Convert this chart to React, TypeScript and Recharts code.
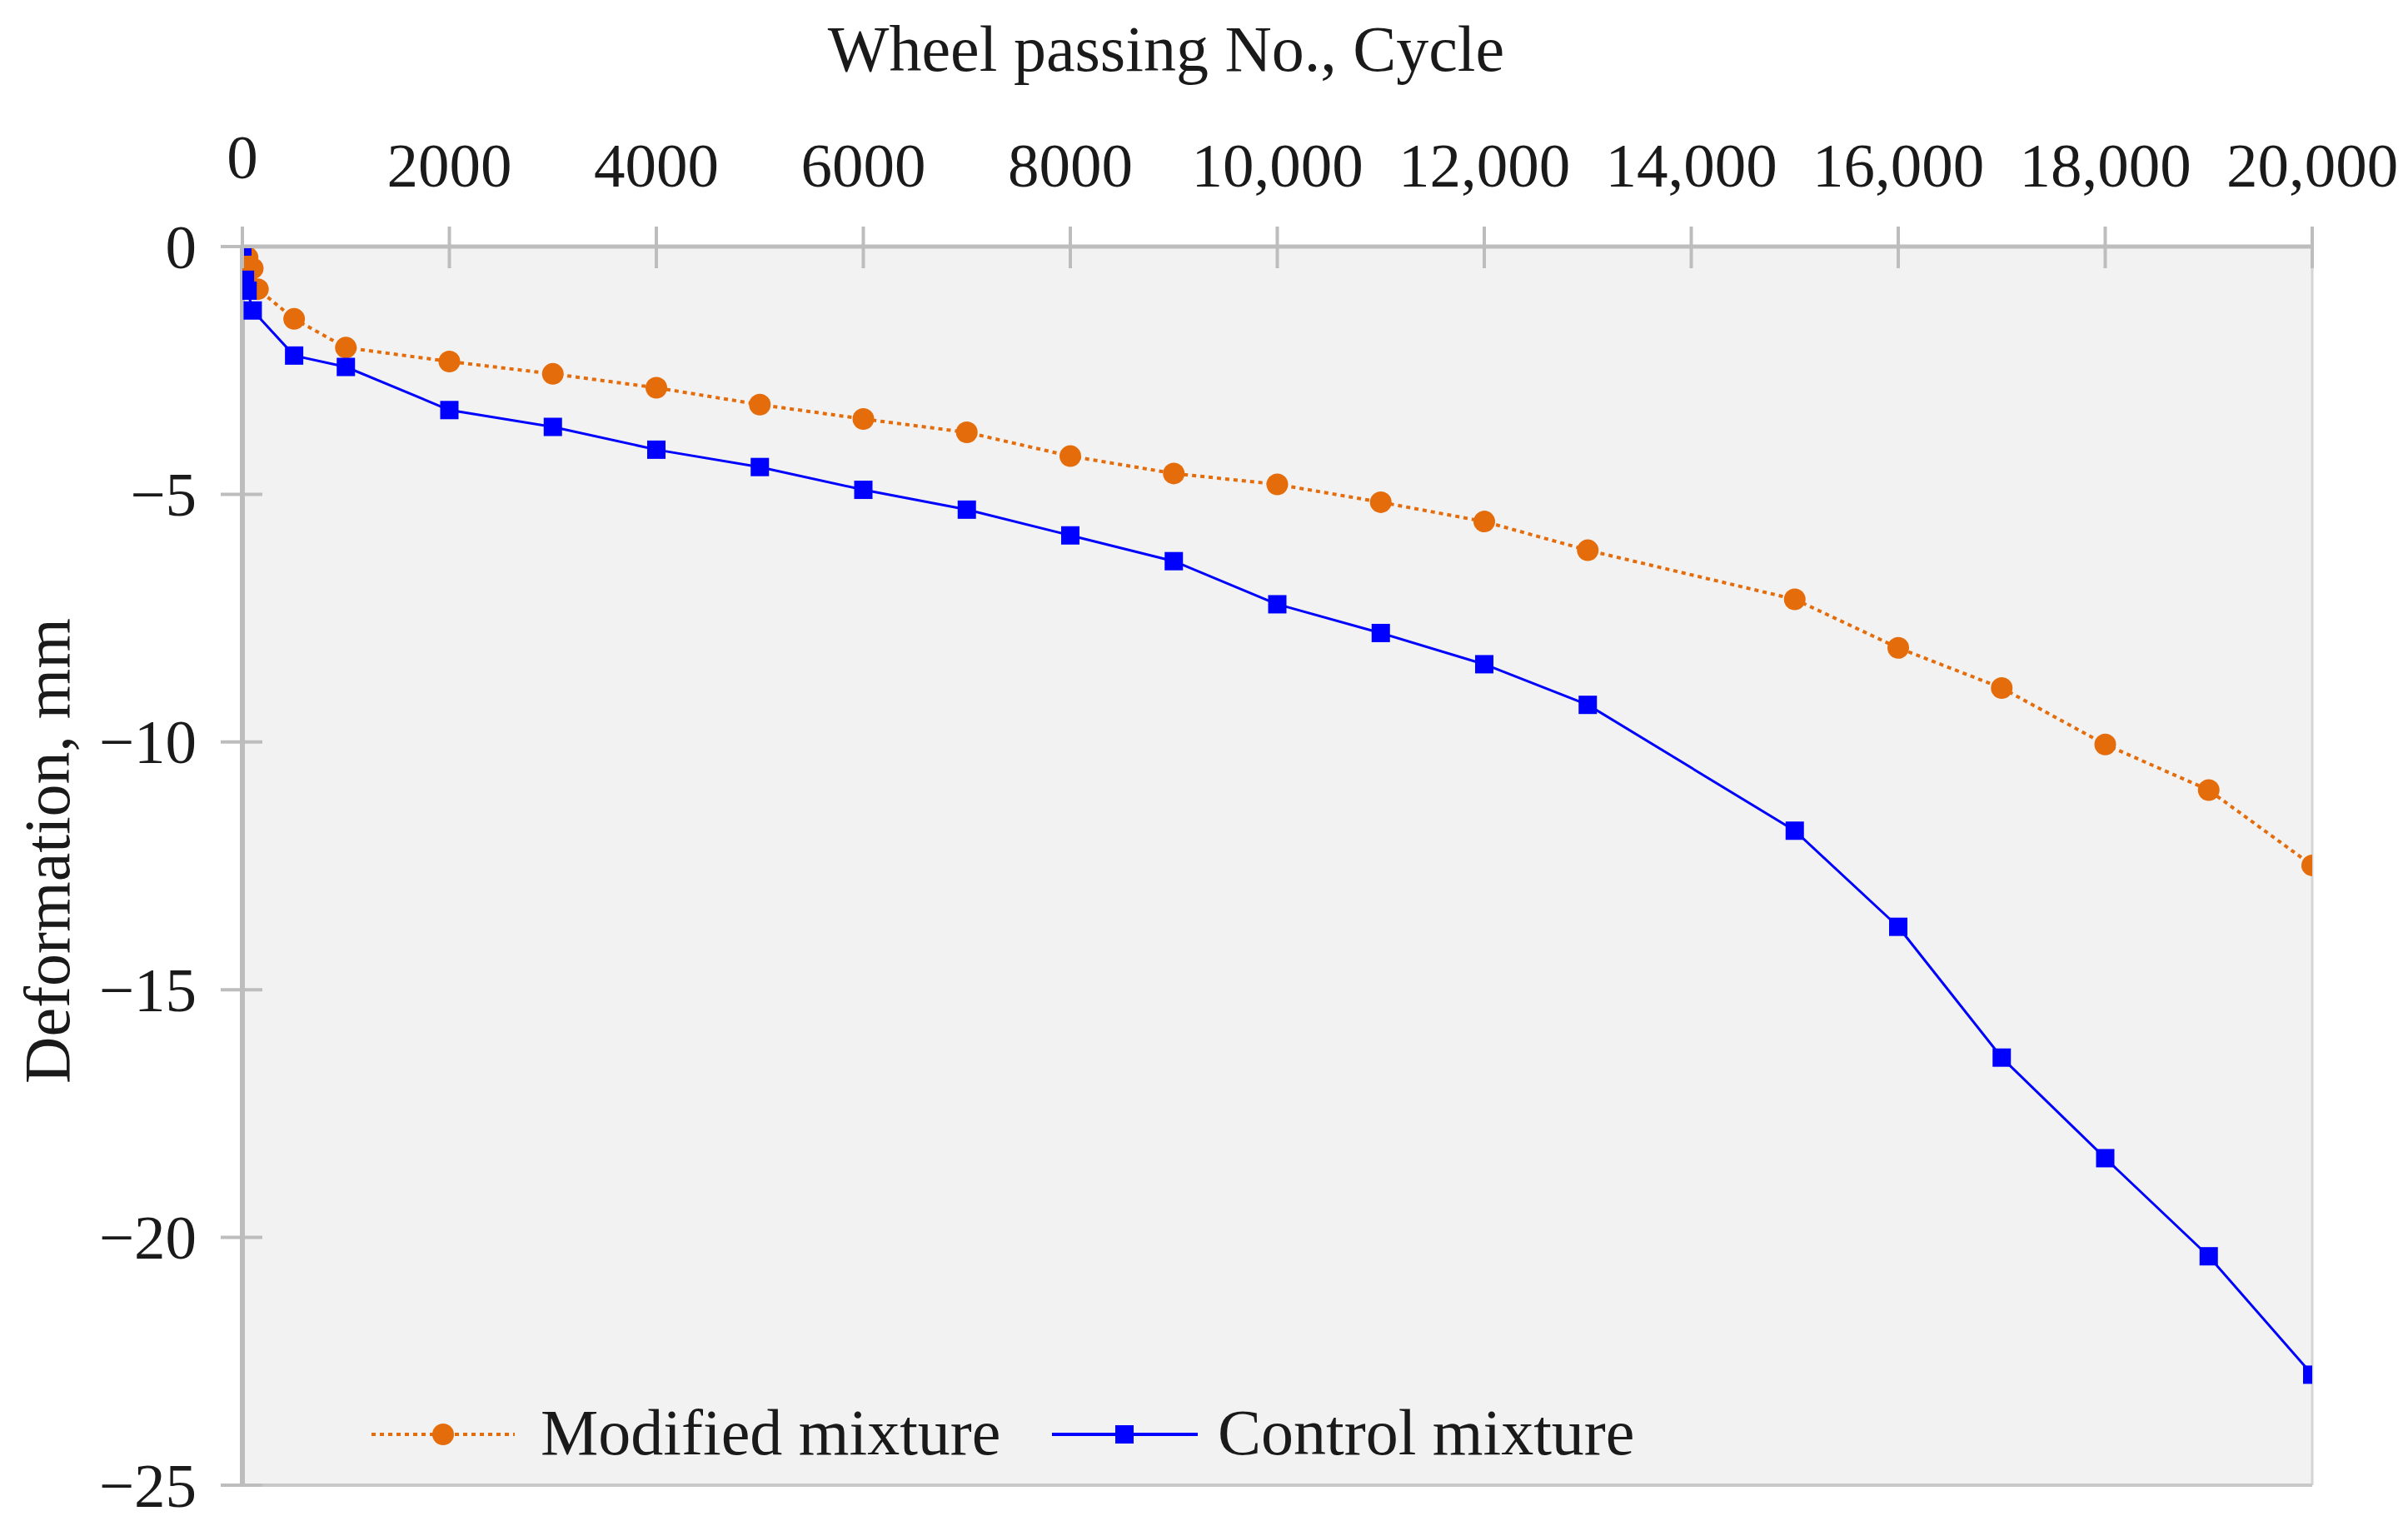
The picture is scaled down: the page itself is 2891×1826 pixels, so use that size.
import React from "react";
import {
  LineChart,
  Line,
  XAxis,
  YAxis,
  CartesianGrid,
  ReferenceLine,
  Legend,
} from "recharts";

// ---- data ----
const modifiedCycles = [0, 50, 100, 150, 500, 1000, 2000, 3000, 4000, 5000, 6000, 7000, 8000, 9000, 10000, 11000, 12000, 13000, 15000, 16000, 17000, 18000, 19000, 20000];
const modifiedDeformation = [0, -0.22, -0.44, -0.86, -1.46, -2.04, -2.32, -2.57, -2.85, -3.19, -3.48, -3.75, -4.23, -4.58, -4.8, -5.16, -5.55, -6.13, -7.12, -8.1, -8.91, -10.05, -10.97, -12.49];

const controlCycles = [0, 25, 50, 100, 500, 1000, 2000, 3000, 4000, 5000, 6000, 7000, 8000, 9000, 10000, 11000, 12000, 13000, 15000, 16000, 17000, 18000, 19000, 20000];
const controlDeformation = [0, -0.67, -0.89, -1.29, -2.2, -2.43, -3.3, -3.64, -4.1, -4.45, -4.91, -5.31, -5.83, -6.35, -7.22, -7.8, -8.43, -9.25, -11.79, -13.73, -16.37, -18.4, -20.38, -22.77];

const xTicks = [0, 2000, 4000, 6000, 8000, 10000, 12000, 14000, 16000, 18000, 20000];
const yTicks = [0, -5, -10, -15, -20, -25];

const seriesNames = ["Modified mixture", "Control mixture"];
const xTitle = "Wheel passing No., Cycle";
const yTitle = "Deformation, mm";

const modifiedData = modifiedCycles.map((x, i) => ({ x, y: modifiedDeformation[i] }));
const controlData = controlCycles.map((x, i) => ({ x, y: controlDeformation[i] }));

// ---- styles ----
const FONT = "'Liberation Serif', 'Times New Roman', serif";
const TEXT = "#1a1a1a";
const AXIS = "#bdbdbd";
const ORANGE = "#E46C0A";
const BLUE = "#0000FF";

const fmtX = (v: number) => (v >= 10000 ? v.toLocaleString("en-US") : String(v));
const fmtY = (v: number) => (v < 0 ? "\u2212" + Math.abs(v) : String(v));

const XTick = (props: any) => {
  const { x, y, payload } = props;
  const v = payload.value as number;
  return (
    <g>
      <line x1={x} x2={x} y1={y - 24} y2={y + 26} stroke={AXIS} strokeWidth={4} />
      <text
        x={x}
        y={v === 0 ? y - 82 : y - 72}
        textAnchor="middle"
        fontFamily={FONT}
        fontSize={75}
        fill={TEXT}
      >
        {fmtX(v)}
      </text>
    </g>
  );
};

const YTick = (props: any) => {
  const { x, y, payload } = props;
  const v = payload.value as number;
  return (
    <g>
      <line x1={x - 26} x2={x + 24} y1={y} y2={y} stroke={AXIS} strokeWidth={4} />
      <text
        x={x - 55}
        y={y}
        dy="0.34em"
        textAnchor="end"
        fontFamily={FONT}
        fontSize={75}
        fill={TEXT}
      >
        {fmtY(v)}
      </text>
    </g>
  );
};

const CircleDot = (props: any) => {
  const { cx, cy, index } = props;
  if (cx == null || cy == null) return <g key={index} />;
  return <circle key={index} cx={cx} cy={cy} r={13} fill={ORANGE} stroke="none" />;
};

const SquareDot = (props: any) => {
  const { cx, cy, index } = props;
  if (cx == null || cy == null) return <g key={index} />;
  return <rect key={index} x={cx - 11} y={cy - 11} width={22} height={22} fill={BLUE} stroke="none" />;
};

const LegendContent = () => (
  <svg width={1650} height={120} style={{ display: "block", overflow: "visible" }}>
    <line x1={6} x2={178} y1={60} y2={60} stroke={ORANGE} strokeWidth={4} strokeDasharray="5 5" />
    <circle cx={92} cy={60} r={13} fill={ORANGE} />
    <text x={209} y={84} fontFamily={FONT} fontSize={78} fill={TEXT}>
      {seriesNames[0]}
    </text>
    <line x1={823} x2={998} y1={60} y2={60} stroke={BLUE} strokeWidth={4} />
    <rect x={899} y={49} width={22} height={22} fill={BLUE} />
    <text x={1022} y={84} fontFamily={FONT} fontSize={78} fill={TEXT}>
      {seriesNames[1]}
    </text>
  </svg>
);

const XTitle = (props: any) => {
  const vb = props.viewBox || {};
  return (
    <text
      x={1400}
      y={(vb.y ?? 0) + 85}
      textAnchor="middle"
      fontFamily={FONT}
      fontSize={78}
      fill={TEXT}
    >
      {xTitle}
    </text>
  );
};

const YTitle = (props: any) => {
  const vb = props.viewBox || {};
  const cx = (vb.x ?? 0) + 56;
  const cy = (vb.y ?? 0) + (vb.height ?? 0) / 2 - 18;
  return (
    <text
      x={cx}
      y={cy}
      transform={`rotate(-90, ${cx}, ${cy})`}
      textAnchor="middle"
      dominantBaseline="central"
      fontFamily={FONT}
      fontSize={78}
      fill={TEXT}
    >
      {yTitle}
    </text>
  );
};

export default function App() {
  return (
    <div style={{ position: "absolute", left: 0, top: 0, background: "#fff" }}>
      <LineChart
        width={2891}
        height={1826}
        margin={{ top: 0, right: 115, bottom: 43, left: 0 }}
      >
        <CartesianGrid fill="#f2f2f2" horizontal={false} vertical={false} stroke="none" />
        <XAxis
          xAxisId={0}
          type="number"
          dataKey="x"
          orientation="top"
          domain={[0, 20000]}
          ticks={xTicks}
          height={296}
          tickSize={0}
          tickMargin={0}
          tickLine={false}
          tick={<XTick />}
          axisLine={{ stroke: AXIS, strokeWidth: 5 }}
          allowDataOverflow
          label={<XTitle />}
        />
        <YAxis
          yAxisId={0}
          type="number"
          dataKey="y"
          domain={[-25, 0]}
          ticks={yTicks}
          width={291}
          tickSize={0}
          tickMargin={0}
          tickLine={false}
          tick={<YTick />}
          axisLine={{ stroke: AXIS, strokeWidth: 6 }}
          allowDataOverflow
          label={<YTitle />}
        />
        <ReferenceLine x={20000} stroke="#d4d4d4" strokeWidth={3} ifOverflow="extendDomain" />
        <ReferenceLine y={-25} stroke="#c8c8c8" strokeWidth={4} ifOverflow="extendDomain" />
        <Line
          data={modifiedData}
          dataKey="y"
          name={seriesNames[0]}
          type="linear"
          stroke={ORANGE}
          strokeWidth={4}
          strokeDasharray="5 5"
          dot={<CircleDot />}
          activeDot={false}
          isAnimationActive={false}
        />
        <Line
          data={controlData}
          dataKey="y"
          name={seriesNames[1]}
          type="linear"
          stroke={BLUE}
          strokeWidth={3}
          dot={<SquareDot />}
          activeDot={false}
          isAnimationActive={false}
        />
        <Legend
          content={<LegendContent />}
          height={0}
          wrapperStyle={{ position: "absolute", left: 440, top: 1662, width: 1650, height: 0, overflow: "visible" }}
        />
      </LineChart>
    </div>
  );
}
